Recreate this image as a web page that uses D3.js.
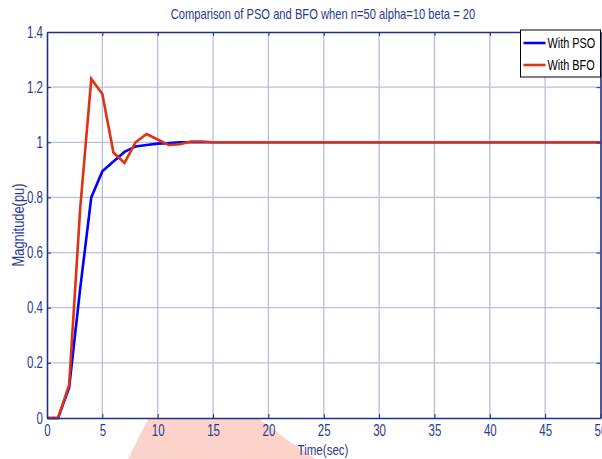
<!DOCTYPE html>
<html>
<head>
<meta charset="utf-8">
<script src="https://cdn.jsdelivr.net/npm/d3@7"></script>
<style>
  body { margin: 0; background: #fff; }
  svg text { font-family: "Liberation Sans", Arial, sans-serif; fill: #2b3990; }
</style>
</head>
<body>
<div id="chart"></div>
<script>
// data (time in seconds, magnitude in pu)
const time = [0, 1, 2, 3, 4, 5, 6, 7, 8, 9, 10, 11, 12, 13, 14, 15, 16, 20, 30, 40, 50]
const pso = [0, 0, 0.11, 0.47, 0.8, 0.895, 0.93, 0.965, 0.985, 0.99, 0.995, 0.997, 1.0, 1.0, 1.0, 1.0, 1.0, 1.0, 1.0, 1.0, 1.0]
const bfo = [0, 0, 0.12, 0.76, 1.23, 1.175, 0.963, 0.925, 1.0, 1.03, 1.01, 0.99, 0.993, 1.003, 1.003, 1.0, 1.0, 1.0, 1.0, 1.0, 1.0]
const xTicks = [0, 5, 10, 15, 20, 25, 30, 35, 40, 45, 50]
const yTicks = [0, 0.2, 0.4, 0.6, 0.8, 1, 1.2, 1.4]
const seriesNames = ["With PSO", "With BFO"]
const seriesColors = ["#0000ff", "#dd3311"]

const width = 602
const height = 459
const margin = { top: 32, right: 1.5, bottom: 41, left: 47 }
const innerW = width - margin.left - margin.right
const innerH = height - margin.top - margin.bottom

// squeeze text horizontally to mimic the narrow font of the original
const condense = (sel, k = 0.8) => sel.each(function () {
  const w = this.getComputedTextLength()
  d3.select(this).attr("textLength", w * k).attr("lengthAdjust", "spacingAndGlyphs")
})

const svg = d3.select("#chart")
  .append("svg")
  .attr("width", width)
  .attr("height", height)

// faint watermark behind the bottom of the figure
svg.append("path")
  .attr("d", "M128,459 C138,440 145,420 160,405 C180,390 230,392 255,415 C275,432 295,445 315,459 Z")
  .attr("fill", "#fcd3cb")

const g = svg.append("g")
  .attr("transform", `translate(${margin.left}, ${margin.top})`)

g.append("rect")
  .attr("width", innerW)
  .attr("height", innerH)
  .attr("fill", "#fff")

const x = d3.scaleLinear().domain([0, 50]).range([0, innerW])
const y = d3.scaleLinear().domain([0, 1.4]).range([innerH, 0])

// grid
g.append("g").selectAll("line")
  .data(xTicks.slice(1, -1))
  .join("line")
  .attr("x1", d => x(d)).attr("x2", d => x(d))
  .attr("y1", 0).attr("y2", innerH)
  .attr("stroke", "#b7bfdc").attr("stroke-width", 1.3)

g.append("g").selectAll("line")
  .data(yTicks.slice(1, -1))
  .join("line")
  .attr("x1", 0).attr("x2", innerW)
  .attr("y1", d => y(d)).attr("y2", d => y(d))
  .attr("stroke", "#b7bfdc").attr("stroke-width", 1.3)

// lines
const seriesData = [pso, bfo]
seriesData.forEach((vals, i) => {
  const line = d3.line()
    .x((d, k) => x(time[k]))
    .y(d => y(d))
  g.append("path")
    .datum(vals)
    .attr("d", line)
    .attr("fill", "none")
    .attr("stroke", seriesColors[i])
    .attr("stroke-width", 2.6)
})

// axes
const axisColor = "#1f2f8a"
const xAxis = g.append("g")
  .attr("transform", `translate(0, ${innerH})`)
  .call(d3.axisBottom(x).tickValues(xTicks).tickSize(-4).tickPadding(7).tickSizeOuter(0))
const xTop = g.append("g")
  .call(d3.axisTop(x).tickValues(xTicks).tickSize(-4).tickFormat("").tickSizeOuter(0))
const yAxis = g.append("g")
  .call(d3.axisLeft(y).tickValues(yTicks).tickSize(-4).tickPadding(4).tickSizeOuter(0).tickFormat(d3.format("~g")))
const yRight = g.append("g")
  .attr("transform", `translate(${innerW}, 0)`)
  .call(d3.axisRight(y).tickValues(yTicks).tickSize(-4).tickFormat("").tickSizeOuter(0))

;[xAxis, xTop, yAxis, yRight].forEach(a => {
  a.select(".domain").attr("stroke", axisColor).attr("stroke-width", 1.6)
  a.selectAll(".tick line").attr("stroke", axisColor)
  a.selectAll("text").attr("font-size", 16).attr("font-family", null).style("fill", "#2b3990")
    .call(condense, 0.72)
})

// legend
const legend = g.append("g")
  .attr("transform", `translate(${innerW - 80}, -2)`)
legend.append("rect")
  .attr("width", 80).attr("height", 47)
  .attr("fill", "#fff").attr("stroke", "#000").attr("stroke-width", 1)
seriesNames.forEach((name, i) => {
  legend.append("line")
    .attr("x1", 3).attr("x2", 25)
    .attr("y1", 13 + i * 22).attr("y2", 13 + i * 22)
    .attr("stroke", seriesColors[i]).attr("stroke-width", 2.6)
  legend.append("text")
    .attr("x", 27).attr("y", 18 + i * 22)
    .attr("font-size", 14.5)
    .style("fill", "#000")
    .text(name)
    .call(condense, 0.75)
})

// title and labels
svg.append("text")
  .attr("x", 323).attr("y", 19)
  .attr("text-anchor", "middle")
  .attr("font-size", 14.5)
  .text("Comparison of PSO and BFO when n=50 alpha=10 beta = 20")
  .call(condense, 0.77)

svg.append("text")
  .attr("x", 323).attr("y", 455)
  .attr("text-anchor", "middle")
  .attr("font-size", 15)
  .text("Time(sec)")
  .call(condense, 0.77)

svg.append("text")
  .attr("transform", `translate(24, 225) rotate(-90)`)
  .attr("text-anchor", "middle")
  .attr("font-size", 16.5)
  .text("Magnitude(pu)")
  .call(condense, 0.78)
</script>
</body>
</html>
